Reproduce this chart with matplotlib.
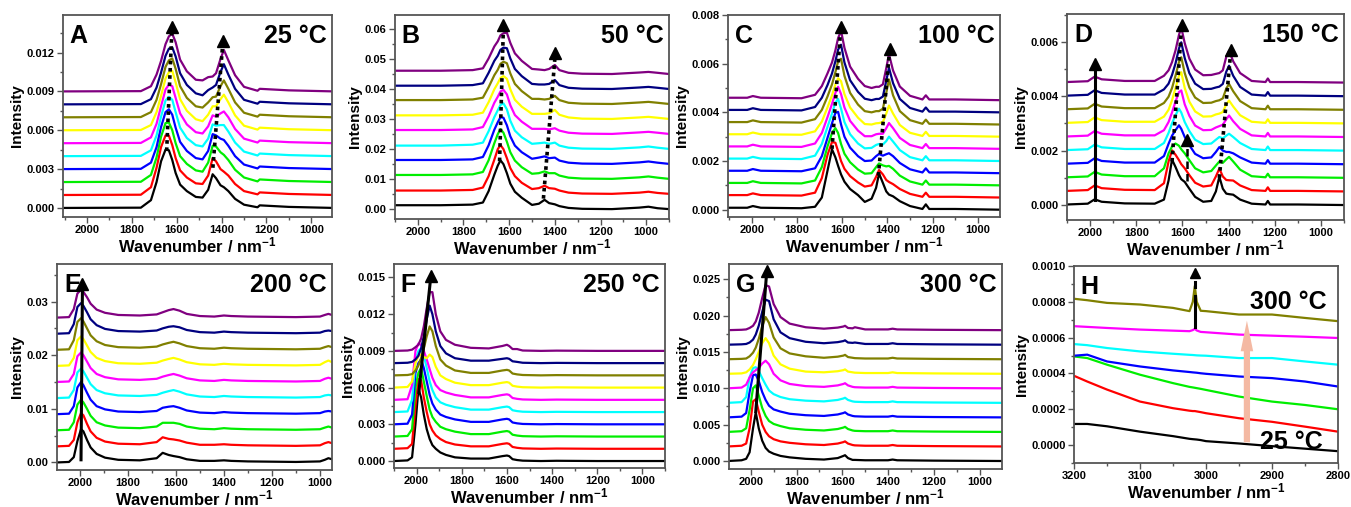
import matplotlib.pyplot as plt
from matplotlib.ticker import MultipleLocator, FormatStrFormatter

plt.rcParams["font.family"] = ["Liberation Sans", "DejaVu Sans"]
plt.rcParams["font.weight"] = "bold"
plt.rcParams["mathtext.fontset"] = "custom"
plt.rcParams["mathtext.rm"] = "Liberation Sans:bold"
plt.rcParams["mathtext.it"] = "Liberation Sans:bold"
plt.rcParams["mathtext.bf"] = "Liberation Sans:bold"

# curve colours, bottom (first spectrum) to top (last spectrum)
COLORS = ["#000000", "#ff0000", "#00ee00", "#0000ff", "#00ffff",
          "#ff00ff", "#ffff00", "#808000", "#000080", "#800080"]
H_COLORS = ["#000000", "#ff0000", "#00ee00", "#0000ff", "#00ffff", "#ff00ff", "#808000"]

# ---- A: 25 C (heights above each stacked baseline, units 1e-5) ----
A_WN = [2100, 1760, 1715, 1690, 1670, 1650, 1635, 1620, 1605, 1585, 1555, 1515, 1485,
        1460, 1440, 1425, 1405, 1390, 1370, 1340, 1300, 1240, 1230, 1100, 900]
A_CURVES = [
    [0, 2, 60, 200, 360, 450, 445, 370, 270, 180, 130, 85, 80, 140, 260, 230, 175, 160, 130, 70, 25, 5, 20, 8, 0],
    [0, 2, 60, 210, 370, 460, 458, 385, 285, 190, 135, 90, 85, 150, 285, 260, 200, 180, 150, 85, 30, 5, 20, 8, 0],
    [0, 2, 55, 190, 350, 455, 460, 400, 300, 200, 140, 90, 80, 150, 280, 275, 230, 210, 170, 95, 35, 5, 20, 8, 0],
    [0, 2, 50, 170, 325, 440, 462, 420, 320, 210, 140, 85, 75, 140, 270, 260, 235, 225, 180, 100, 35, 5, 20, 8, 0],
    [0, 2, 45, 160, 305, 430, 458, 435, 340, 220, 140, 85, 75, 135, 245, 235, 240, 240, 190, 105, 35, 5, 20, 8, 0],
    [0, 2, 45, 150, 285, 415, 452, 440, 350, 230, 145, 85, 75, 130, 215, 205, 230, 245, 200, 110, 35, 5, 20, 8, 0],
    [0, 2, 40, 140, 265, 400, 448, 458, 370, 240, 150, 85, 70, 120, 185, 185, 240, 275, 215, 115, 35, 5, 20, 8, 0],
    [0, 2, 40, 135, 255, 390, 440, 454, 375, 240, 150, 85, 75, 115, 155, 160, 240, 285, 220, 115, 35, 5, 20, 8, 0],
    [0, 2, 40, 130, 245, 375, 430, 440, 370, 240, 150, 85, 70, 110, 130, 150, 250, 310, 230, 120, 35, 5, 20, 8, 0],
    [0, 2, 40, 130, 235, 365, 425, 446, 380, 245, 155, 90, 85, 110, 115, 140, 250, 320, 240, 125, 35, 5, 20, 8, 0],
]

# ---- B: 50 C (units 1e-4) ----
B_WN = [2100, 1900, 1760, 1715, 1690, 1665, 1650, 1638, 1625, 1610, 1595, 1575, 1545,
        1500, 1470, 1445, 1425, 1400, 1380, 1340, 1280, 1150, 1030, 990, 950, 900]
B_CURVES = [
    [13, 13, 15, 22, 60, 115, 145, 163, 150, 120, 85, 58, 38, 14, 18, 31, 20, 16, 10, 4, 1, 0, 5, 8, 3, 0],
    [12, 12, 14, 22, 60, 115, 150, 164, 150, 120, 87, 60, 38, 17, 20, 28, 20, 18, 12, 5, 2, 1, 5, 8, 4, 1],
    [14, 14, 16, 24, 63, 120, 150, 167, 155, 125, 90, 62, 40, 18, 20, 26, 20, 20, 12, 5, 2, 1, 6, 9, 5, 1],
    [14, 14, 16, 24, 63, 115, 140, 157, 155, 130, 93, 62, 40, 18, 22, 26, 20, 22, 12, 5, 2, 1, 6, 9, 5, 1],
    [12, 12, 15, 22, 60, 107, 130, 148, 153, 133, 95, 62, 40, 18, 20, 22, 18, 22, 12, 5, 2, 1, 6, 9, 5, 1],
    [14, 14, 16, 24, 60, 105, 125, 143, 148, 133, 97, 64, 42, 18, 18, 18, 16, 20, 12, 5, 2, 1, 6, 8, 5, 1],
    [13, 13, 15, 22, 57, 100, 120, 138, 144, 135, 100, 65, 42, 18, 18, 18, 20, 31, 15, 6, 2, 1, 6, 8, 5, 1],
    [14, 14, 16, 22, 57, 97, 115, 135, 142, 137, 103, 68, 44, 18, 18, 16, 18, 28, 14, 5, 2, 1, 6, 8, 5, 1],
    [12, 12, 14, 20, 55, 95, 112, 132, 139, 137, 103, 68, 44, 18, 16, 16, 18, 31, 14, 5, 2, 1, 6, 8, 5, 1],
    [12, 12, 14, 20, 53, 93, 110, 130, 137, 139, 105, 70, 45, 18, 16, 14, 18, 31, 14, 5, 2, 1, 6, 8, 5, 1],
]

# ---- C: 100 C (units 1e-5) ----
C_WN = [2100, 2020, 1995, 1960, 1780, 1720, 1690, 1665, 1645, 1630, 1618, 1605, 1590, 1565, 1530,
        1500, 1470, 1450, 1437, 1420, 1405, 1393, 1375, 1345, 1300, 1245, 1230, 1215, 1100, 900]
C_CURVES = [
    [8, 8, 15, 8, 6, 12, 50, 160, 248, 215, 180, 145, 115, 85, 60, 32, 45, 90, 149, 110, 75, 62, 55, 35, 15, 3, 22, 3, 3, 0],
    [10, 10, 17, 10, 8, 20, 80, 175, 228, 225, 190, 150, 118, 88, 62, 45, 50, 85, 113, 95, 72, 64, 55, 35, 15, 3, 20, 3, 3, 0],
    [10, 10, 17, 10, 8, 20, 75, 160, 215, 235, 215, 170, 130, 95, 65, 48, 50, 75, 90, 82, 78, 80, 68, 40, 16, 3, 20, 3, 3, 0],
    [10, 10, 17, 10, 8, 20, 70, 145, 205, 248, 252, 200, 150, 105, 70, 50, 52, 70, 79, 72, 78, 82, 70, 42, 16, 3, 20, 3, 3, 0],
    [10, 10, 17, 10, 8, 22, 70, 140, 195, 240, 255, 215, 160, 110, 72, 52, 54, 66, 70, 68, 82, 100, 80, 45, 16, 3, 20, 3, 3, 0],
    [10, 10, 17, 10, 8, 22, 65, 130, 185, 230, 255, 225, 170, 115, 75, 52, 52, 60, 62, 62, 85, 106, 85, 45, 16, 3, 20, 3, 3, 0],
    [10, 10, 17, 10, 8, 22, 62, 120, 170, 215, 240, 228, 175, 120, 78, 52, 50, 55, 56, 60, 95, 128, 95, 48, 16, 3, 20, 3, 3, 0],
    [10, 10, 17, 10, 8, 22, 60, 115, 165, 215, 260, 270, 200, 130, 82, 55, 50, 55, 55, 65, 130, 185, 120, 55, 18, 3, 20, 3, 3, 0],
    [10, 10, 17, 10, 8, 22, 60, 112, 160, 210, 258, 278, 205, 132, 84, 56, 50, 55, 55, 65, 130, 183, 120, 55, 18, 3, 20, 3, 3, 0],
    [10, 10, 17, 10, 8, 22, 58, 110, 155, 205, 255, 285, 215, 138, 88, 58, 50, 55, 55, 65, 132, 189, 122, 56, 18, 3, 20, 3, 3, 0],
]

# ---- D: 150 C (units 1e-5) ----
D_WN = [2100, 2010, 1980, 1950, 1850, 1720, 1680, 1660, 1645, 1630, 1615, 1605, 1590, 1570, 1545,
        1510, 1475, 1455, 1440, 1425, 1410, 1398, 1380, 1350, 1300, 1240, 1230, 1220, 1100, 900]
D_CURVES = [
    [2, 5, 21, 12, 6, 5, 20, 90, 167, 140, 110, 95, 85, 60, 30, 12, 15, 50, 104, 60, 42, 40, 38, 20, 5, 2, 15, 2, 2, 0],
    [2, 5, 22, 12, 6, 5, 30, 110, 151, 135, 115, 100, 85, 60, 32, 18, 22, 55, 84, 55, 42, 41, 40, 22, 5, 2, 15, 2, 2, 0],
    [2, 5, 22, 12, 6, 6, 35, 90, 115, 126, 118, 105, 90, 65, 35, 20, 25, 45, 60, 55, 68, 77, 60, 30, 6, 2, 15, 2, 2, 0],
    [2, 5, 22, 12, 6, 6, 30, 75, 105, 125, 143, 130, 100, 70, 38, 22, 25, 45, 63, 50, 45, 45, 40, 25, 6, 2, 15, 2, 2, 0],
    [2, 5, 22, 12, 6, 6, 28, 65, 100, 130, 154, 140, 105, 72, 40, 24, 26, 40, 50, 45, 55, 62, 50, 28, 6, 2, 15, 2, 2, 0],
    [2, 5, 22, 12, 6, 6, 25, 55, 90, 130, 165, 171, 120, 78, 42, 25, 26, 35, 40, 45, 65, 79, 58, 30, 6, 2, 15, 2, 2, 0],
    [2, 5, 22, 12, 6, 6, 25, 50, 85, 130, 175, 188, 130, 80, 44, 25, 26, 33, 36, 42, 70, 84, 62, 30, 6, 2, 15, 2, 2, 0],
    [2, 5, 22, 12, 6, 6, 25, 48, 80, 125, 175, 193, 135, 82, 45, 25, 26, 32, 35, 42, 78, 95, 68, 32, 6, 2, 15, 2, 2, 0],
    [2, 5, 22, 12, 6, 6, 25, 46, 78, 120, 175, 198, 140, 85, 46, 26, 27, 32, 35, 45, 90, 112, 75, 34, 6, 2, 15, 2, 2, 0],
    [2, 5, 22, 12, 6, 6, 25, 45, 75, 118, 175, 202, 145, 88, 48, 27, 28, 32, 35, 45, 95, 117, 78, 35, 6, 2, 15, 2, 2, 0],
]

# ---- E: 200 C (units 1e-4) ----
E_WN = [2100, 2045, 2025, 2010, 1995, 1985, 1970, 1955, 1930, 1895, 1840, 1750, 1680, 1655,
        1630, 1610, 1585, 1555, 1500, 1440, 1400, 1370, 1300, 1100, 1000, 980, 965, 950]
E_CURVES = [
    [0, 1, 10, 40, 62, 58, 42, 28, 16, 9, 5, 4, 8, 18, 14, 12, 10, 6, 3, 3, 4, 3, 2, 1, 2, 5, 8, 6],
    [0, 1, 12, 45, 62, 58, 42, 28, 16, 9, 5, 4, 8, 17, 14, 13, 11, 7, 3, 3, 4, 3, 2, 1, 2, 6, 8, 6],
    [0, 1, 15, 48, 57, 52, 40, 27, 15, 9, 5, 4, 7, 14, 14, 14, 12, 7, 3, 2, 4, 3, 2, 1, 2, 5, 7, 5],
    [0, 1, 15, 50, 60, 54, 40, 27, 15, 9, 5, 4, 6, 12, 14, 15, 12, 7, 3, 2, 4, 3, 2, 1, 2, 5, 6, 5],
    [0, 1, 15, 48, 55, 50, 38, 26, 15, 9, 5, 4, 6, 10, 13, 15, 12, 7, 3, 2, 4, 3, 2, 1, 2, 5, 6, 5],
    [0, 1, 15, 48, 55, 50, 38, 26, 15, 9, 5, 4, 6, 10, 13, 15, 12, 7, 3, 2, 4, 3, 2, 1, 2, 6, 8, 6],
    [0, 1, 15, 48, 55, 50, 38, 26, 15, 9, 5, 4, 6, 10, 13, 15, 12, 7, 3, 2, 4, 3, 2, 1, 2, 7, 10, 7],
    [0, 1, 18, 52, 59, 53, 40, 27, 16, 9, 5, 4, 6, 10, 13, 15, 12, 7, 3, 2, 4, 3, 2, 1, 2, 5, 7, 5],
    [0, 1, 18, 50, 57, 52, 40, 27, 16, 9, 5, 4, 6, 10, 13, 14, 12, 7, 3, 2, 4, 3, 2, 1, 2, 5, 6, 5],
    [0, 1, 16, 45, 52, 48, 38, 26, 15, 9, 5, 4, 6, 10, 14, 16, 13, 7, 3, 2, 4, 3, 2, 1, 2, 5, 7, 5],
]

# ---- F: 250 C (units 1e-4) ----
F_WN = [2100, 2040, 2020, 2005, 1992, 1980, 1968, 1955, 1942, 1930, 1915, 1895, 1870,
        1830, 1760, 1680, 1620, 1600, 1590, 1575, 1555, 1530, 1450, 1380, 1200, 900]
F_CURVES = [
    [0, 0.5, 3, 30, 59, 52, 38, 26, 18, 13, 10, 7, 5, 3, 2, 2, 4, 4.5, 4, 1.5, 0.8, 0.3, 0, 0.2, 0, 0],
    [0, 0.5, 4, 35, 57, 56, 42, 30, 20, 15, 11, 8, 5.5, 3.5, 2, 2, 4, 4.5, 4, 1.5, 0.8, 0.3, 0, 0.2, 0, 0],
    [0, 0.5, 6, 40, 52, 56, 45, 33, 22, 16, 12, 8, 6, 4, 2, 2, 4, 4.5, 4, 1.5, 0.8, 0.3, 0, 0.2, 0, 0],
    [0, 0.5, 8, 42, 50, 53, 46, 35, 24, 17, 12, 8, 6, 4, 2, 2, 4, 4.5, 4, 1.5, 0.8, 0.3, 0, 0.2, 0, 0],
    [0, 0.5, 10, 42, 50, 52, 46, 36, 25, 18, 12, 8, 6, 4, 2, 2, 4, 4.5, 4, 1.5, 0.8, 0.3, 0, 0.2, 0, 0],
    [0, 0.5, 12, 40, 46, 45, 40, 33, 25, 18, 12, 8, 6, 4, 2, 2, 4, 4.5, 4, 1.5, 0.8, 0.3, 0, 0.2, 0, 0],
    [0, 0.5, 5, 20, 26, 27, 25, 24, 27, 25, 17, 10, 7, 4, 2, 2, 4, 4.5, 4, 1.5, 0.8, 0.3, 0, 0.2, 0, 0],
    [0, 0.3, 1, 4, 8, 14, 22, 32, 40, 36, 24, 13, 8, 4, 2, 2, 4, 4.5, 4, 1.5, 0.8, 0.3, 0, 0.2, 0, 0],
    [0, 0.3, 1, 3, 6, 12, 22, 36, 47, 40, 26, 14, 8, 4, 2, 2, 3.5, 4, 3.5, 1.5, 1, 0.3, 0, 0.2, 0, 0],
    [0, 0.3, 1, 3, 5, 10, 20, 35, 48, 48, 30, 16, 9, 5, 2.5, 2, 4, 5, 4, 1.5, 1.5, 0.3, 0, 0.2, 0, 0],
]

# ---- G: 300 C (units 1e-4) ----
G_WN = [2100, 2040, 2020, 2005, 1990, 1978, 1965, 1950, 1935, 1920, 1900, 1870, 1830, 1760,
        1680, 1620, 1595, 1588, 1575, 1555, 1545, 1500, 1400, 1380, 1360, 1200, 900]
G_CURVES = [
    [0, 1, 3, 12, 45, 67, 45, 28, 18, 13, 10, 7, 5, 3, 2, 4, 7, 8, 4, 1.5, 1.5, 1, 1, 2, 1, 0.5, 0],
    [0, 1, 4, 25, 62, 65, 48, 30, 20, 14, 10, 7, 5, 3, 2, 4, 6, 7, 4, 2, 1.5, 1, 1, 2, 1, 0.5, 0],
    [0, 1, 5, 30, 60, 64, 50, 33, 22, 15, 11, 8, 5, 3, 2, 4, 6, 7, 4, 2, 1.5, 1, 1, 2, 1, 0.5, 0],
    [0, 1, 6, 35, 58, 59, 50, 35, 24, 16, 11, 8, 5, 3, 2, 4, 6, 7, 4, 2, 1.5, 1, 1, 2, 1, 0.5, 0],
    [0, 1, 8, 35, 48, 49, 44, 34, 25, 17, 12, 8, 5, 3, 2, 4, 6, 7, 4, 2, 1.5, 1, 1, 2, 1, 0.5, 0],
    [0, 1, 5, 15, 22, 25, 28, 34, 38, 33, 20, 11, 6, 3, 2, 4, 6, 7, 4, 2, 1.5, 1, 1, 2, 1, 0.5, 0],
    [0, 0.5, 2, 6, 12, 20, 30, 42, 49, 42, 25, 13, 7, 3, 2, 3.5, 5, 6, 3, 2, 1.5, 1, 1, 2, 1, 0.5, 0],
    [0, 0.5, 1, 4, 9, 16, 28, 45, 58, 50, 30, 15, 8, 4, 2, 3.5, 5, 6, 3, 2, 1.5, 1, 1, 2, 1, 0.5, 0],
    [0, 0.5, 1, 3, 7, 14, 26, 45, 62, 60, 35, 17, 9, 4, 2, 3.5, 5, 6, 3, 2.5, 3, 1, 1, 2, 1, 0.5, 0],
    [0, 0.5, 1, 3, 6, 12, 24, 44, 62, 60, 36, 18, 9, 4, 2, 3.5, 5, 6, 3, 2.5, 4, 1, 1, 2, 1, 0.5, 0],
]

# ---- H: C-H region, 25 C -> 300 C (absolute, units 1e-5) ----
H_WN = [3200, 3180, 3150, 3100, 3050, 3025, 3020, 3017, 3014, 3008, 3000, 2950, 2900, 2850, 2800]
H_CURVES = [
    [11.8, 11.8, 10.5, 7.5, 5.0, 3.5, 3.3, 3.2, 3.1, 2.8, 2.2, 0.9, -0.6, -2.0, -3.4],
    [38.7, 35.5, 31.0, 24.3, 20.6, 19.2, 19.0, 19.0, 18.8, 18.4, 17.8, 15.0, 13.0, 10.3, 7.5],
    [49.5, 48.6, 44.9, 39.3, 34.6, 32.5, 32.2, 32.0, 31.8, 31.4, 30.8, 27.1, 24.3, 22.4, 20.0],
    [49.9, 50.5, 46.7, 43.9, 41.7, 40.8, 40.6, 40.5, 40.4, 40.1, 39.8, 38.3, 37.4, 35.5, 32.7],
    [56.4, 55.8, 54.2, 52.3, 51.0, 50.4, 50.3, 50.2, 50.1, 50.0, 49.9, 48.6, 48.6, 46.7, 44.9],
    [66.4, 66.0, 65.4, 64.5, 63.9, 63.6, 64.2, 64.9, 64.0, 63.2, 63.0, 61.7, 61.1, 60.5, 59.8],
    [81.7, 80.9, 79.4, 78.5, 76.6, 74.8, 80.0, 88.8, 80.0, 75.0, 74.8, 72.9, 72.9, 71.0, 69.2],
]

# guide arrows: (x0, y0, x1, y1, style)
A_ARROWS = [(1645, 0.0044, 1621, 0.0140, "dot"), (1439, 0.0031, 1394, 0.0129, "dot")]
B_ARROWS = [(1642, 0.016, 1625, 0.0615, "dot"), (1450, 0.0035, 1398, 0.0520, "dot")]
C_ARROWS = [(1645, 0.0025, 1606, 0.0075, "dot"), (1440, 0.0014, 1390, 0.0066, "dot")]
D_ARROWS = [(1980, 0.0002, 1980, 0.0052, "solid"), (1645, 0.0016, 1603, 0.0066, "dot"),
            (1440, 0.0010, 1390, 0.0057, "dot"), (1578, 0.0009, 1578, 0.0024, "dash")]
E_ARROWS = [(1995, 0.0005, 1989, 0.0332, "solid")]
F_ARROWS = [(1990, 0.0056, 1937, 0.0151, "solid")]
G_ARROWS = [(1978, 0.0068, 1930, 0.0261, "solid")]

PANELS = [
    # wn, curves, unit, step, xlim, ylim, ymajor, fmt, letter, temp, arrows, rect(px: l, t, r, b)
    (A_WN, A_CURVES, 1e-5, 0.001, (2107, 908), (-0.0007, 0.0149), 0.003, "%.3f", "A", "25 °C", A_ARROWS, (63, 15, 332, 217)),
    (B_WN, B_CURVES, 1e-4, 0.005, (2100, 900), (-0.0033, 0.0648), 0.01, "%.2f", "B", "50 °C", B_ARROWS, (395, 15, 669, 219)),
    (C_WN, C_CURVES, 1e-5, 0.0005, (2105, 902), (-0.0003, 0.008), 0.002, "%.3f", "C", "100 °C", C_ARROWS, (728, 15, 1000, 217)),
    (D_WN, D_CURVES, 1e-5, 0.0005, (2100, 900), (-0.00055, 0.00702), 0.002, "%.3f", "D", "150 °C", D_ARROWS, (1067, 14, 1344, 220)),
    (E_WN, E_CURVES, 1e-4, 0.003, (2095, 950), (-0.0014, 0.037), 0.01, "%.2f", "E", "200 °C", E_ARROWS, (57, 264, 332, 470)),
    (F_WN, F_CURVES, 1e-4, 0.001, (2100, 900), (-0.00057, 0.0161), 0.003, "%.3f", "F", "250 °C", F_ARROWS, (394, 264, 665, 468)),
    (G_WN, G_CURVES, 1e-4, 0.002, (2095, 902), (-0.0011, 0.0271), 0.005, "%.3f", "G", "300 °C", G_ARROWS, (729, 264, 1002, 469)),
]

W, H = 1351, 507
fig = plt.figure(figsize=(W / 100, H / 100), dpi=100)
FRAME = "#555555"


def make_axes(rect):
    l, t, r, b = rect
    ax = fig.add_axes([l / W, 1 - b / H, (r - l) / W, (b - t) / H])
    for s in ax.spines.values():
        s.set_color(FRAME)
        s.set_linewidth(1.3)
    ax.tick_params(which="both", direction="out", color=FRAME, width=1.0,
                   labelsize=8, pad=2)
    ax.tick_params(which="major", length=4)
    ax.tick_params(which="minor", length=2.5)
    return ax


def draw_arrows(ax, arrows):
    for x0, y0, x1, y1, style in arrows:
        if style == "dot":
            ls, lw = (0, (1, 1)), 2.6
        elif style == "dash":
            ls, lw = (0, (3, 2)), 1.8
        else:
            ls, lw = "-", 2.2
        ax.plot([x0, x1], [y0, y1], color="k", ls=ls, lw=lw, zorder=5)
        ax.plot([x1], [y1], marker="^", ms=8, color="k", zorder=6)


for wn, curves, unit, step, xlim, ylim, ymaj, fmt, letter, temp, arrows, rect in PANELS:
    ax = make_axes(rect)
    for k, vals in enumerate(curves):
        ax.plot(wn, [v * unit + k * step for v in vals], color=COLORS[k], lw=1.6)
    draw_arrows(ax, arrows)
    ax.set_xlim(*xlim)
    ax.set_ylim(*ylim)
    ax.xaxis.set_major_locator(MultipleLocator(200))
    ax.xaxis.set_minor_locator(MultipleLocator(100))
    ax.yaxis.set_major_locator(MultipleLocator(ymaj))
    ax.yaxis.set_minor_locator(MultipleLocator(ymaj / 2))
    ax.yaxis.set_major_formatter(FormatStrFormatter(fmt))
    ax.set_xlabel("Wavenumber / nm$^{-1}$", fontsize=12, fontweight="bold", labelpad=0)
    ax.set_ylabel("Intensity", fontsize=11, fontweight="bold", labelpad=2)
    ax.text(0.025, 0.955, letter, transform=ax.transAxes, fontsize=18,
            fontweight="bold", va="top", ha="left")
    ax.text(0.98, 0.955, temp, transform=ax.transAxes, fontsize=18,
            fontweight="bold", va="top", ha="right")

# ---- panel H ----
ax = make_axes((1074, 266, 1338, 463))
for k, vals in enumerate(H_CURVES):
    ax.plot(H_WN, [v * 1e-5 for v in vals], color=H_COLORS[k], lw=1.6)
ax.plot([3017, 3017], [0.00066, 0.00083], color="k", lw=2.2)
ax.plot([3017, 3017], [0.00088, 0.00091], color="k", lw=2.2)
ax.plot([3017], [0.00096], marker="^", ms=7, color="k")
ax.annotate("", xy=(2938, 0.00071), xytext=(2938, 0.0),
            arrowprops=dict(arrowstyle="simple,head_width=0.9,head_length=2.2,tail_width=0.45",
                            color="#f4b9a3", lw=0))
ax.set_xlim(3200, 2800)
ax.set_ylim(-0.0001, 0.0010)
ax.xaxis.set_major_locator(MultipleLocator(100))
ax.xaxis.set_minor_locator(MultipleLocator(50))
ax.yaxis.set_major_locator(MultipleLocator(0.0002))
ax.yaxis.set_minor_locator(MultipleLocator(0.0001))
ax.yaxis.set_major_formatter(FormatStrFormatter("%.4f"))
ax.set_xlabel("Wavenumber / nm$^{-1}$", fontsize=12, fontweight="bold", labelpad=0)
ax.set_ylabel("Intensity", fontsize=11, fontweight="bold", labelpad=2)
ax.text(0.025, 0.955, "H", transform=ax.transAxes, fontsize=18,
        fontweight="bold", va="top", ha="left")
ax.text(2934, 0.00080, "300 °C", fontsize=18, fontweight="bold", va="center", ha="left")
ax.text(2918, 0.00002, "25 °C", fontsize=18, fontweight="bold", va="center", ha="left")

fig.savefig("out.png", dpi=100)
